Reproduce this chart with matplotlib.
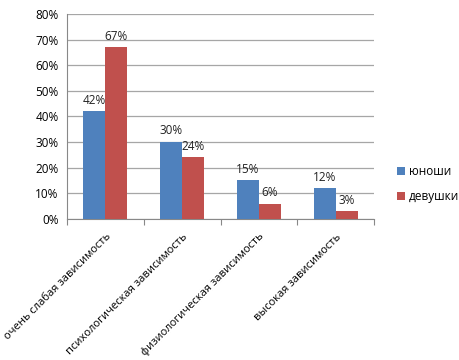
import matplotlib.pyplot as plt
import numpy as np

plt.rcParams['font.family'] = ['Open Sans', 'DejaVu Sans']

categories = ['очень слабая зависимость', 'психологическая зависимость',
              'физиологическая зависимость', 'высокая зависимость']
boys = [42, 30, 15, 12]
girls = [67, 24, 6, 3]
series_names = ['юноши', 'девушки']
colors = ['#4F81BD', '#C0504D']

fig = plt.figure(figsize=(4.59, 3.6), dpi=100)
ax = fig.add_axes([0.146, 0.392, 0.669, 0.569])

x = np.arange(len(categories))
w = 0.286
b1 = ax.bar(x - w / 2, boys, w, color=colors[0], label=series_names[0], zorder=3)
b2 = ax.bar(x + w / 2, girls, w, color=colors[1], label=series_names[1], zorder=3)

for bars, vals in ((b1, boys), (b2, girls)):
    for rect, v in zip(bars, vals):
        ax.text(rect.get_x() + rect.get_width() / 2, v + 1.8, f'{v}%',
                ha='center', va='bottom', fontsize=8.5, color='#222222')

ax.set_xlim(-0.5, len(categories) - 0.5)
ax.set_ylim(0, 80)
ax.set_yticks(range(0, 81, 10))
ax.set_yticklabels([f'{t}%' for t in range(0, 81, 10)], fontsize=8.5)
ax.yaxis.grid(True, color='#A6A6A6', linewidth=0.9, zorder=0)
ax.tick_params(axis='y', length=0, pad=6)

# category boundary ticks on x axis
ax.set_xticks(np.arange(-0.5, len(categories), 1.0), minor=False)
ax.set_xticklabels([])
ax.tick_params(axis='x', which='major', length=4, color='#888888', direction='out')
ax.set_xticks(x, minor=True)
ax.set_xticklabels(categories, minor=True, rotation=45, ha='right',
                   rotation_mode='anchor', fontsize=8)
ax.tick_params(axis='x', which='minor', length=0, pad=9)

for s in ['top', 'right']:
    ax.spines[s].set_visible(False)
ax.spines['left'].set_color('#888888')
ax.spines['bottom'].set_color('#888888')

ax.legend(loc='center left', bbox_to_anchor=(1.04, 0.17), frameon=False,
          fontsize=8.5, handlelength=0.7, handleheight=0.7, handletextpad=0.3,
          labelspacing=1.0)

fig.savefig('out.png', dpi=100)
